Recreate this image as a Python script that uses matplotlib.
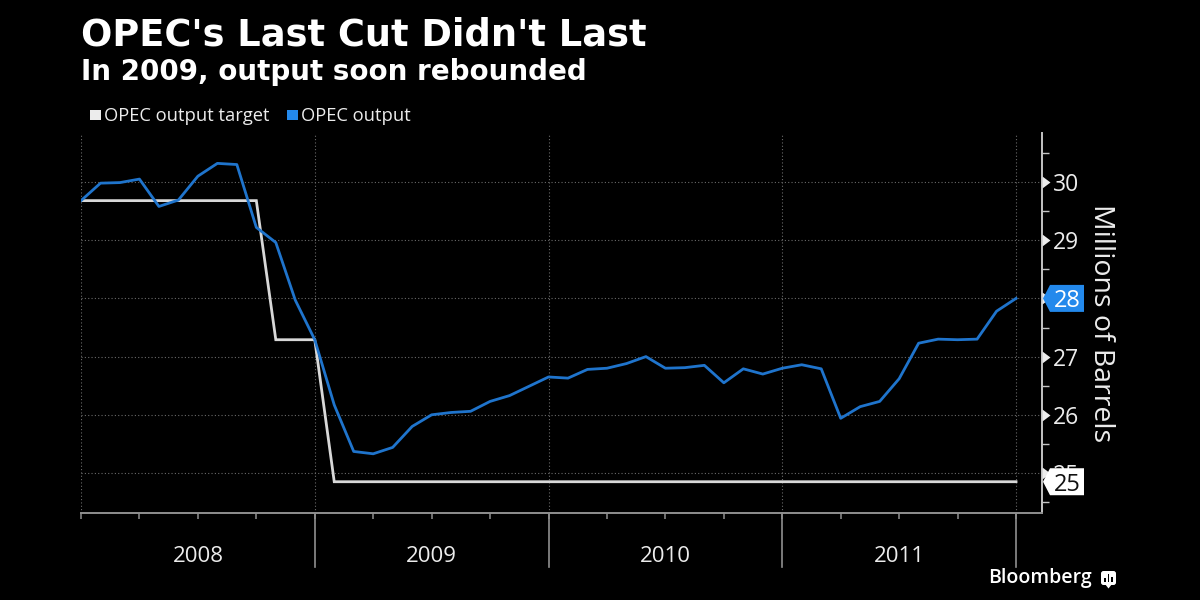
import matplotlib
matplotlib.use("Agg")
import matplotlib.pyplot as plt
from matplotlib.patches import Polygon, Rectangle, FancyBboxPatch
from matplotlib.ticker import FixedLocator, NullFormatter

# Monthly readings, millions of barrels per day, January 2008 to January 2012
output = [29.68, 29.98, 29.99, 30.05, 29.58, 29.69, 30.10, 30.32, 30.30, 29.22,
          28.96, 27.97, 27.29, 26.17, 25.37, 25.33, 25.44, 25.80, 26.00, 26.04,
          26.06, 26.23, 26.33, 26.49, 26.65, 26.63, 26.78, 26.80, 26.88, 27.00,
          26.80, 26.81, 26.85, 26.55, 26.79, 26.70, 26.80, 26.86, 26.79, 25.94,
          26.14, 26.23, 26.62, 27.23, 27.30, 27.29, 27.30, 27.78, 28.00]
target = [29.68] * 10 + [27.29] * 3 + [24.85] * 36
months = list(range(len(output)))

years = ["2008", "2009", "2010", "2011"]
year_starts = [0, 12, 24, 36, 48]
y_ticks = [25, 26, 27, 28, 29, 30]

title = "OPEC's Last Cut Didn't Last"
subtitle = "In 2009, output soon rebounded"
target_name = "OPEC output target"
output_name = "OPEC output"
y_label = "Millions of Barrels"

BLUE = "#1f74cc"
TAG_BLUE = "#2389ec"
WHITE = "#ececec"
GREY = "#8f8f8f"
SANS = "Open Sans"

W, H = 1200, 600
fig = plt.figure(figsize=(12, 6), dpi=100, facecolor="black")
L, R, T, B = 81, 1042, 133, 513
ax = fig.add_axes([L / W, 1 - B / H, (R - L) / W, (B - T) / H], facecolor="black")

ax.set_xlim(0, (R - L) / 19.48)
ax.set_ylim(25 - (B - 473) / 58.2, 30 + (182 - T) / 58.2)

# Dotted reference lines sit beneath both series
for v in y_ticks:
    ax.axhline(v, color="#6a6a6a", lw=0.8, ls=(0, (1, 2)), zorder=1)
for m in year_starts:
    ax.axvline(m, color="#6a6a6a", lw=0.8, ls=(0, (1, 2)), zorder=1)

ax.plot(months, target, color="#d8d8d8", lw=2.0, solid_joinstyle="miter", zorder=3)
ax.plot(months, output, color=BLUE, lw=2.0, solid_joinstyle="round", zorder=4)

for side in ("top", "left"):
    ax.spines[side].set_visible(False)
ax.spines["bottom"].set_color(GREY)
ax.spines["bottom"].set_linewidth(1.4)
ax.spines["right"].set_color("#c4c4c4")
ax.spines["right"].set_linewidth(1.4)

ax.xaxis.set_major_locator(FixedLocator(list(range(0, 49, 3))))
ax.xaxis.set_major_formatter(NullFormatter())
ax.tick_params(axis="x", colors=GREY, length=4, width=1.1)

ax.yaxis.tick_right()
ax.yaxis.set_major_locator(FixedLocator(y_ticks))
ax.yaxis.set_minor_locator(FixedLocator([24.5, 25.5, 26.5, 27.5, 28.5, 29.5, 30.5]))
ax.tick_params(axis="y", which="minor", colors="#c4c4c4", length=5, width=1.0)
ax.tick_params(axis="y", which="major", length=0, pad=8, labelcolor=WHITE, labelsize=16.5)
for lab in ax.get_yticklabels():
    lab.set_fontfamily(SANS)

# White pointers on the whole-number ticks of the value axis
ax.plot([1] * len(y_ticks), y_ticks, transform=ax.get_yaxis_transform(), ls="none",
        marker=matplotlib.markers.CARETRIGHTBASE, ms=8, mfc=WHITE, mec="none",
        clip_on=False, zorder=5)

# Long year separators below the axis, with centred year labels
sep = ax.get_xaxis_transform()
for m in year_starts[1:]:
    ax.plot([m, m], [0, -(567 - B) / (B - T)], transform=sep, color=GREY, lw=1.2,
            clip_on=False, zorder=2)
for name, a, b in zip(years, year_starts[:-1], year_starts[1:]):
    ax.text((a + b) / 2, -(557 - B) / (B - T), name, transform=sep, ha="center",
            va="center", color=WHITE, fontsize=16, family=SANS)

ax.text(1 + (1101 - R) / (R - L), 1 - (323 - T) / (B - T), y_label, transform=ax.transAxes,
        rotation=270, ha="center", va="center", color=WHITE, fontsize=20.5, family=SANS)


def end_tag(value, fill, ink):
    """Flag on the value axis showing a series' latest reading."""
    _, py = ax.transData.transform((0, value))
    px = R + 1
    pts = [(px, py), (px + 7, py + 13.5), (px + 41, py + 13.5),
           (px + 41, py - 13.5), (px + 7, py - 13.5)]
    fig.add_artist(Polygon(pts, closed=True, fc=fill, ec="none", transform=None, zorder=6))
    fig.text((px + 24) / W, py / H, f"{value:.0f}", color=ink, fontsize=17, family=SANS,
             ha="center", va="center_baseline", zorder=7)


end_tag(output[-1], TAG_BLUE, "white")
end_tag(target[-1], "white", "#111111")

# Header
fig.text(81 / W, 1 - 35 / H, title, color="white", fontsize=26.5, fontweight="bold",
         family="DejaVu Sans", ha="left", va="center")
fig.text(81 / W, 1 - 72 / H, subtitle, color="white", fontsize=20, fontweight="bold",
         family="DejaVu Sans", ha="left", va="center")

# Legend row
for x, colour, name in ((90, WHITE, target_name), (287, TAG_BLUE, output_name)):
    fig.add_artist(Rectangle((x / W, 1 - 120 / H), 11 / W, 10 / H, fc=colour, ec="none",
                             transform=fig.transFigure))
    fig.text((x + 14) / W, 1 - 116 / H, name, color=WHITE, fontsize=13.2, family=SANS,
             ha="left", va="center")

# Bloomberg signature with its small chart bubble
fig.text(1092 / W, 1 - 578 / H, "Bloomberg", color="white", fontsize=14, fontweight="semibold",
         family=SANS, ha="right", va="center")
fig.add_artist(FancyBboxPatch((1101, 600 - 585), 15, 14, boxstyle="round,pad=0,rounding_size=2.5",
                              fc="white", ec="none", transform=None))
fig.add_artist(Polygon([(1105, 16), (1112, 16), (1108.5, 11.5)], closed=True, fc="white",
                       ec="none", transform=None))
for dx, h in ((1104, 4), (1107.5, 8), (1111, 5)):
    fig.add_artist(Rectangle((dx, 600 - 582), 1.8, h, fc="black", ec="none", transform=None))

fig.savefig("out.png", dpi=100, facecolor="black")
